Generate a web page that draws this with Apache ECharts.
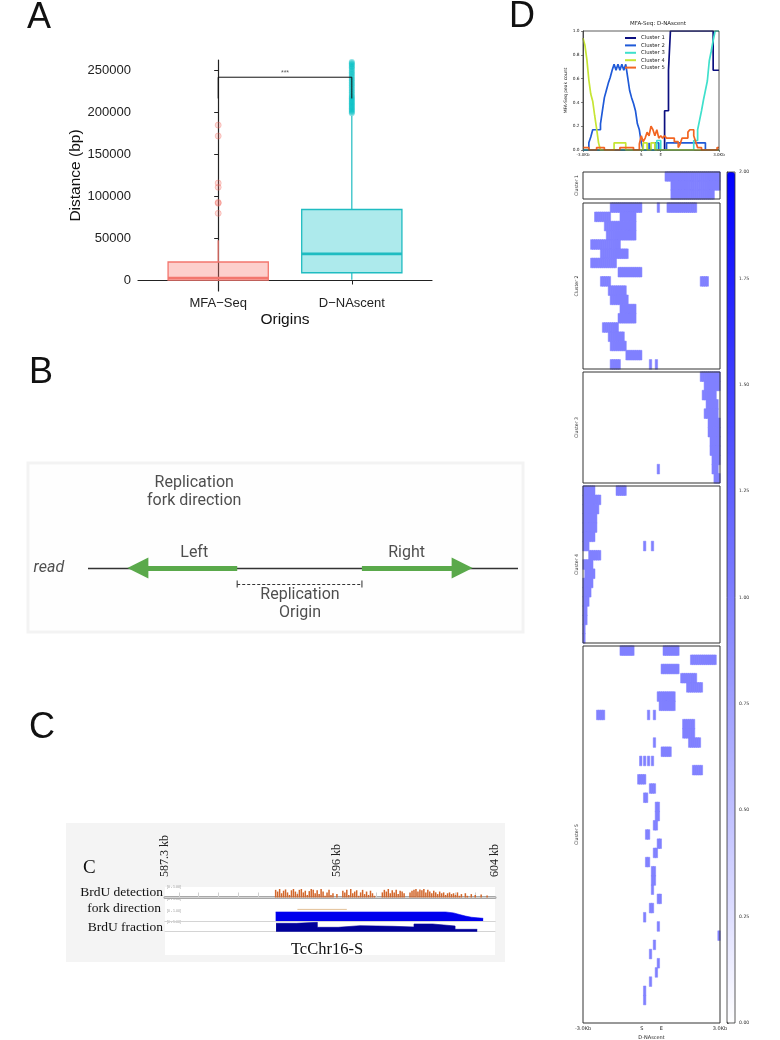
<!DOCTYPE html>
<html>
<head>
<meta charset="utf-8">
<title>Replication origins</title>
<script src="https://cdn.jsdelivr.net/npm/echarts@6/dist/echarts.min.js"></script>
<style>
  html, body { margin: 0; padding: 0; background: #fff; }
  body { width: 780px; height: 1040px; position: relative; overflow: hidden; }
  .panel { position: absolute; }
  #panelA { left: 0; top: 0; width: 460px; height: 340px; }
  #panelB { left: 0; top: 340px; width: 530px; height: 310px; }
  #panelC { left: 0; top: 690px; width: 530px; height: 290px; }
  #panelD { left: 500px; top: 0; width: 280px; height: 1040px; }
</style>
</head>
<body>
<div class="panel" id="panelA"></div>
<div class="panel" id="panelB"></div>
<div class="panel" id="panelC"></div>
<div class="panel" id="panelD"></div>
<script>
// ---------- A: distance boxplot ----------
const originCats = ['MFA−Seq', 'D−NAscent'];
// [lower whisker, Q1, median, Q3, upper whisker]
const mfaBox = [0, 500, 3000, 22000, 48000];
const dnaBox = [1000, 9200, 31700, 84500, 196000];
const mfaOutliers = [185000, 172000, 116000, 111000, 93000, 92000, 80000];
const dnaOutliers = [199000, 200500, 202000, 203500, 205000, 206500, 208000, 209500, 211000, 212500,
  214000, 215500, 217000, 218500, 220000, 222000, 224000, 226000, 228000, 230000,
  232000, 234000, 236000, 238000, 240000, 242000, 244000, 246000, 248000, 250000,
  252000, 254000, 255500, 257000, 258500, 260000];
const distanceTicks = [0, 50000, 100000, 150000, 200000, 250000];
const sigBracket = [216700, 242000]; // foot, top

// ---------- B: fork direction scheme (read positions 0..100) ----------
const readLine = [[0, 0], [100, 0]];
const leftFork = [[34.7, 0], [11.6, 0]];
const rightFork = [[63.7, 0], [87.0, 0]];
const originSpan = [[34.7, -0.64], [63.7, -0.64]];
const schemeLabels = [
  ['Replication', 24.7, 3.4], ['fork direction', 24.7, 2.68],
  ['Left', 24.7, 0.6], ['Right', 74.1, 0.6],
  ['Replication', 49.3, -1.08], ['Origin', 49.3, -1.8],
  ['read', -9.1, 0]
];

// ---------- C: genome browser tracks (kb) ----------
const rulerRangeKb = [587.3, 604];
const rulerLabelKb = [587.3, 596, 604];
const rulerTickKb = [588, 589, 590, 591, 592, 593, 594, 595, 597, 598, 599, 600, 601, 602, 603];
const detectStartKb = 592.9;
const detectBinKb = 0.1;
const detectHeights = [
  0.9, 0.7, 1.0, 0.5, 0.8, 0.95, 0.6, 0.3, 0.85, 1.0,
  0.7, 0.4, 0.9, 1.0, 0.6, 0.8, 0.3, 0.75, 1.0, 0.9,
  0.5, 0.85, 0.4, 1.0, 0.7, 0.2, 0.6, 0.9, 0.3, 0.5,
  0, 0.4, 0, 0, 0.8, 0.6, 0.9, 0.3, 1.0, 0.5,
  0.7, 0.85, 0.2, 0.6, 0.9, 0.4, 0.7, 0.3, 0.8, 0.5,
  0.2, 0, 0, 0, 0.6, 0.9, 0.7, 1.0, 0.5, 0.85,
  0.6, 0.9, 0.4, 0.8, 0.7, 0.5, 0, 0, 0.6, 0.8,
  0.9, 1.0, 0.7, 0.95, 0.85, 1.0, 0.6, 0.9, 0.7, 0.5,
  0.8, 0.6, 0.4, 0.7, 0.5, 0.6, 0.3, 0.5, 0.6, 0.4,
  0.5, 0.3, 0.6, 0.2, 0.4, 0, 0.5, 0.2, 0, 0.4,
  0, 0.3, 0, 0, 0.35, 0, 0, 0.25
];
const forkDirection = [[592.9, 1], [601.5, 1], [601.9, 0.9], [602.2, 0.72], [602.5, 0.55],
  [602.8, 0.42], [603.1, 0.35], [603.4, 0.3]];
const forkFeature = [[594.0, 1.3], [596.5, 1.3]];
const brduFraction = [[592.92, 0.84], [593.96, 0.94], [595.01, 0.44], [596.07, 0.6], [597.17, 0.54],
  [598.85, 0.47], [599.9, 0.77], [600.85, 0.57], [601.98, 0.24], [603.1, 0.24]];

// ---------- D: profile + heatmap (70 bins: 3kb up, body, 3kb down) ----------
const binCount = 70;
const profileTickBins = [0, 30, 40, 70];
const profileTickNames = ['-3.0Kb', 'S', 'E', '3.0Kb'];
const clusterNames = ['Cluster 1', 'Cluster 2', 'Cluster 3', 'Cluster 4', 'Cluster 5'];
const clusterColors = ['#0b0f80', '#1f5ad8', '#3fe0cc', '#c6e534', '#f26522'];
// [bin start, mean peak count]
const profile1 = [[0, 0], [42, 0.33], [44, 0.67], [45, 1], [67, 0.67], [70, 0.67]];
const profile2 = [[0, 0], [3, 0.06], [4, 0.11], [5, 0.17], [9, 0.22], [10, 0.33], [11, 0.44], [12, 0.5],
  [13, 0.56], [14, 0.61], [15, 0.67], [16, 0.72], [17, 0.67], [18, 0.72], [19, 0.67], [20, 0.72],
  [21, 0.67], [22, 0.72], [23, 0.61], [24, 0.5], [25, 0.44], [26, 0.39], [27, 0.33], [28, 0.22],
  [29, 0.17], [30, 0.06], [31, 0], [34, 0.06], [35, 0], [37, 0.06], [39, 0], [43, 0.06], [63, 0], [70, 0]];
const profile3 = [[0, 0], [38, 0.08], [40, 0], [57, 0.08], [59, 0.17], [60, 0.25], [61, 0.33], [62, 0.42],
  [63, 0.5], [64, 0.58], [65, 0.75], [66, 0.83], [67, 0.92], [68, 1], [70, 1]];
const profile4 = [[0, 0.94], [1, 0.88], [2, 0.76], [3, 0.59], [4, 0.47], [5, 0.41], [6, 0.29], [7, 0.18],
  [8, 0.06], [9, 0], [16, 0.06], [22, 0], [31, 0.06], [33, 0], [35, 0.06], [37, 0], [70, 0]];
const profile5 = [[0, 0.02], [3, 0], [7, 0.02], [11, 0], [19, 0.02], [26, 0], [29, 0.05], [30, 0.12],
  [31, 0.07], [32, 0.1], [33, 0.15], [34, 0.12], [35, 0.2], [36, 0.17], [37, 0.12], [38, 0.17],
  [39, 0.1], [40, 0.12], [41, 0.1], [42, 0.12], [43, 0.1], [47, 0.07], [49, 0.02], [50, 0.05],
  [51, 0.1], [54, 0.15], [55, 0.17], [57, 0.12], [58, 0.07], [59, 0.02], [61, 0], [69, 0.02], [70, 0.02]];
// heatmap rows: list of [start bin, end bin) where a peak overlaps
const peakValue = 1;
const rows1 = [[[42, 70]], [[45, 70]], [[45, 67]]];
const rows2 = [
  [[14, 30], [38, 39], [43, 58]], [[6, 14], [19, 27]], [[11, 27]], [[12, 27]], [[4, 19]], [[9, 23]],
  [[4, 17]], [[18, 30]], [[9, 14], [60, 64]], [[13, 22]], [[14, 23]], [[19, 27]],
  [[18, 27]], [[10, 18]], [[13, 21]], [[14, 22]], [[22, 30]], [[14, 19], [34, 35], [37, 38]]
];
const rows3 = [
  [[60, 70]], [[62, 70]], [[61, 68]], [[63, 69]], [[62, 69]], [[64, 70]],
  [[64, 70]], [[65, 70]], [[65, 70]], [[66, 70]], [[38, 39], [66, 69]], [[67, 70]]
];
const rows4 = [
  [[0, 6], [17, 22]], [[0, 9]], [[0, 8]], [[0, 7]], [[0, 7]], [[0, 6]],
  [[0, 3], [31, 32], [35, 36]], [[3, 9]], [[0, 5]], [[1, 6]], [[0, 5]], [[0, 4]],
  [[0, 3]], [[0, 2]], [[0, 2]], [[0, 1]], [[0, 1]]
];
const rows5 = [
  [[19, 26], [41, 49]], [[55, 68]], [[40, 49]], [[50, 58]], [[53, 61]], [[38, 47]],
  [[39, 47]], [[7, 11], [33, 34], [36, 37]], [[51, 57]], [[51, 57]], [[36, 37], [54, 60]], [[40, 45]],
  [[29, 30], [31, 32], [33, 34], [35, 36]], [[56, 61]], [[28, 32]], [[34, 37]], [[31, 33]], [[37, 39]],
  [[37, 39]], [[36, 38]], [[32, 34]], [[38, 40]], [[36, 38]], [[32, 34]],
  [[35, 37]], [[35, 37]], [[35, 36]], [[38, 40]], [[34, 36]], [[31, 32]],
  [[38, 39]], [[69, 70]], [[36, 37]], [[34, 35]], [[38, 39]], [[37, 38]],
  [[34, 35]], [[31, 32]], [[31, 32]], [], []
];
const colorbarTicks = [0, 2];

// 面板A 箱线图
(function () {
  const myChart = echarts.init(document.querySelector('#panelA'));
  const boxColors = ['#f3766e', '#1fbcc1'];
  const boxFills = ['rgba(248,118,109,0.35)', 'rgba(0,191,196,0.32)'];
  const boxData = [mfaBox, dnaBox].map(function (s, i) { return [i].concat(s); });
  const font = 'Liberation Sans';
  const option = {
    animation: false,
    textStyle: { fontFamily: font },
    graphic: [
      { type: 'text', x: 27, y: 18, style: { text: 'A', fontSize: 36, fill: '#111', fontFamily: font, verticalAlign: 'middle' } }
    ],
    grid: { left: 138, top: 60, width: 294, height: 231, containLabel: false, outerBoundsMode: 'none' },
    xAxis: {
      type: 'value', min: -0.6, max: 1.6,
      name: 'Origins', nameLocation: 'middle', nameGap: 21, nameMoveOverlap: false,
      nameTextStyle: { fontSize: 15.5, color: '#111', fontFamily: font },
      axisLine: { lineStyle: { color: '#222', width: 1.2 } },
      axisTick: { customValues: [0, 1], length: 4, lineStyle: { color: '#222' } },
      axisLabel: {
        customValues: [0, 1], margin: 6, fontSize: 13, color: '#222',
        formatter: function (v) { return originCats[Math.round(v)]; }
      },
      splitLine: { show: false }
    },
    yAxis: {
      type: 'value', min: -12500, max: 262500,
      name: 'Distance (bp)', nameLocation: 'middle', nameGap: 54, nameMoveOverlap: false,
      nameTextStyle: { fontSize: 15.5, color: '#111', fontFamily: font },
      axisLine: { show: true, lineStyle: { color: '#222', width: 1.2 } },
      axisTick: { show: true, customValues: distanceTicks, length: 4, lineStyle: { color: '#222' } },
      axisLabel: {
        customValues: distanceTicks, margin: 7, fontSize: 13, color: '#222',
        formatter: function (v) { return String(v); }
      },
      splitLine: { show: false }
    },
    series: [
      {
        type: 'custom',
        data: boxData,
        encode: { x: 0, y: [1, 2, 3, 4, 5] },
        renderItem: function (params, api) {
          const i = api.value(0);
          const low = api.coord([i, api.value(1)]);
          const q1 = api.coord([i, api.value(2)]);
          const med = api.coord([i, api.value(3)]);
          const q3 = api.coord([i, api.value(4)]);
          const high = api.coord([i, api.value(5)]);
          const half = api.size([0.75, 0])[0] / 2;
          const stroke = boxColors[i];
          return {
            type: 'group',
            children: [
              { type: 'line', shape: { x1: low[0], y1: low[1], x2: q1[0], y2: q1[1] }, style: { stroke: stroke, lineWidth: 1.2 } },
              { type: 'line', shape: { x1: q3[0], y1: q3[1], x2: high[0], y2: high[1] }, style: { stroke: stroke, lineWidth: 1.2 } },
              { type: 'rect', shape: { x: q1[0] - half, y: q3[1], width: half * 2, height: q1[1] - q3[1] }, style: { fill: boxFills[i], stroke: stroke, lineWidth: 1.3 } },
              { type: 'line', shape: { x1: med[0] - half, y1: med[1], x2: med[0] + half, y2: med[1] }, style: { stroke: stroke, lineWidth: 2.6 } }
            ]
          };
        }
      },
      {
        type: 'scatter', symbolSize: 6,
        data: mfaOutliers.map(function (v) { return [0, v]; }),
        itemStyle: { color: 'rgba(248,118,109,0.3)', borderColor: 'rgba(240,110,100,0.45)', borderWidth: 1 }
      },
      {
        type: 'scatter', symbolSize: 6,
        data: dnaOutliers.map(function (v) { return [1, v]; }),
        itemStyle: { color: 'rgba(0,191,196,0.55)' }
      },
      {
        type: 'line', symbol: 'none',
        data: [[0, sigBracket[0]], [0, sigBracket[1]], [1, sigBracket[1]], [1, sigBracket[0]]],
        lineStyle: { color: '#111', width: 1 }
      },
      {
        type: 'scatter', symbolSize: 0,
        data: [[0.5, sigBracket[1]]],
        label: { show: true, position: 'top', distance: 1, formatter: '***', fontSize: 7, color: '#333' }
      }
    ]
  };
  myChart.setOption(option);
  window.addEventListener('resize', function () { myChart.resize(); });
})();

// 面板B 复制叉方向示意图
(function () {
  const myChart = echarts.init(document.querySelector('#panelB'));
  const font = 'Roboto';
  const option = {
    animation: false,
    graphic: [
      { type: 'text', x: 29, y: 33, style: { text: 'B', fontSize: 36, fill: '#111', fontFamily: 'Liberation Sans', verticalAlign: 'middle' } },
      { type: 'rect', z: -1, shape: { x: 28, y: 123, width: 495, height: 169 }, style: { fill: '#fefefe', stroke: '#f3f3f3', lineWidth: 3 } }
    ],
    grid: { left: 36.4, width: 481.6, top: 128, height: 150, containLabel: false, outerBoundsMode: 'none' },
    xAxis: { type: 'value', min: -12, max: 100, show: false },
    yAxis: { type: 'value', min: -2, max: 4, show: false },
    series: [
      {
        type: 'lines', coordinateSystem: 'cartesian2d', symbol: 'none',
        lineStyle: { color: '#333', width: 1.3, opacity: 1, curveness: 0 },
        data: [{ coords: readLine }]
      },
      {
        type: 'lines', coordinateSystem: 'cartesian2d', symbol: ['none', 'triangle'], symbolSize: 21,
        lineStyle: { color: '#5aa94b', width: 5, opacity: 1, curveness: 0 },
        itemStyle: { color: '#5aa94b' },
        data: [{ coords: leftFork }, { coords: rightFork }]
      },
      {
        type: 'lines', coordinateSystem: 'cartesian2d', symbol: 'none',
        lineStyle: { color: '#333', width: 1.1, opacity: 1, type: [3, 2], curveness: 0 },
        data: [{ coords: originSpan }]
      },
      {
        type: 'scatter', symbol: 'rect', symbolSize: [1.3, 7],
        itemStyle: { color: '#333' },
        data: originSpan
      },
      {
        type: 'scatter', symbolSize: 0,
        data: schemeLabels.map(function (d) {
          return { name: d[0], value: [d[1], d[2]], label: { fontStyle: d[0] === 'read' ? 'italic' : 'normal' } };
        }),
        label: { show: true, position: 'inside', formatter: '{b}', fontSize: 16, color: '#222', fontFamily: font }
      }
    ]
  };
  myChart.setOption(option);
  window.addEventListener('resize', function () { myChart.resize(); });
})();

// 面板C 基因组浏览器轨道
(function () {
  const myChart = echarts.init(document.querySelector('#panelC'));
  const serif = 'Liberation Serif';
  const trackLine = { lineStyle: { color: '#d4d4d4', width: 1 } };
  const hiddenX = function (grid, pos) {
    return {
      type: 'value', gridIndex: grid, position: pos, min: rulerRangeKb[0], max: rulerRangeKb[1],
      axisLine: trackLine, axisTick: { show: false }, axisLabel: { show: false }, splitLine: { show: false }
    };
  };
  const hiddenY = function (grid, max) {
    return { type: 'value', gridIndex: grid, min: 0, max: max, show: false };
  };
  const scaleText = function (y) {
    return { type: 'text', x: 167, y: y, style: { text: '[0 - 1.00]', fontSize: 3.5, fill: '#999', verticalAlign: 'middle' } };
  };
  const option = {
    animation: false,
    graphic: [
      { type: 'text', x: 29, y: 38, style: { text: 'C', fontSize: 36, fill: '#111', fontFamily: 'Liberation Sans', verticalAlign: 'middle' } },
      { type: 'rect', z: -2, shape: { x: 66, y: 133, width: 439, height: 139 }, style: { fill: '#f4f4f4' } },
      { type: 'rect', z: -1, shape: { x: 165, y: 197, width: 330, height: 68 }, style: { fill: '#ffffff' } },
      { type: 'text', x: 83, y: 178, style: { text: 'C', fontSize: 19, fill: '#111', fontFamily: serif, verticalAlign: 'middle' } },
      { type: 'text', x: 163, y: 202, style: { text: 'BrdU detection', fontSize: 13.5, fill: '#111', fontFamily: serif, align: 'right', verticalAlign: 'middle' } },
      { type: 'text', x: 161, y: 218, style: { text: 'fork direction', fontSize: 13.5, fill: '#111', fontFamily: serif, align: 'right', verticalAlign: 'middle' } },
      { type: 'text', x: 163, y: 237, style: { text: 'BrdU fraction', fontSize: 13.5, fill: '#111', fontFamily: serif, align: 'right', verticalAlign: 'middle' } },
      { type: 'text', x: 327, y: 260, style: { text: 'TcChr16-S', fontSize: 16.5, fill: '#111', fontFamily: serif, align: 'center', verticalAlign: 'middle' } },
      scaleText(197), scaleText(209), scaleText(221), scaleText(232)
    ],
    grid: [
      { left: 165, width: 330, top: 199, height: 8.5, containLabel: false, outerBoundsMode: 'none' },
      { left: 165, width: 330, top: 219, height: 12, containLabel: false, outerBoundsMode: 'none' },
      { left: 165, width: 330, top: 231.7, height: 10, containLabel: false, outerBoundsMode: 'none' }
    ],
    xAxis: [
      {
        type: 'value', gridIndex: 0, position: 'top', offset: 4,
        min: rulerRangeKb[0], max: rulerRangeKb[1],
        axisLine: { lineStyle: { color: '#a8a8a8', width: 3 } },
        axisTick: { show: true, customValues: rulerTickKb, length: 5, lineStyle: { color: '#cfcfcf' } },
        axisLabel: {
          customValues: rulerLabelKb, rotate: 90, margin: 8, fontSize: 12, color: '#222', fontFamily: serif,
          showMinLabel: true, showMaxLabel: true,
          formatter: function (v) { return v + ' kb'; }
        },
        splitLine: { show: false }
      },
      hiddenX(0, 'bottom'),
      hiddenX(1, 'top'),
      hiddenX(1, 'bottom'),
      hiddenX(2, 'bottom')
    ],
    yAxis: [hiddenY(0, 1), hiddenY(1, 1.333), hiddenY(2, 1)],
    series: [
      {
        type: 'bar', xAxisIndex: 1, yAxisIndex: 0, barWidth: 1.5,
        data: detectHeights.map(function (h, i) { return [detectStartKb + i * detectBinKb, h]; }),
        itemStyle: { color: '#d2662a' }
      },
      {
        type: 'line', xAxisIndex: 3, yAxisIndex: 1, symbol: 'none',
        data: forkFeature, lineStyle: { color: '#e6c7a2', width: 1.2 }
      },
      {
        type: 'line', xAxisIndex: 3, yAxisIndex: 1, symbol: 'none',
        data: forkDirection,
        lineStyle: { color: '#0000ee', width: 0.6 },
        areaStyle: { color: '#0000ee', opacity: 1 }
      },
      {
        type: 'line', xAxisIndex: 4, yAxisIndex: 2, symbol: 'none', step: 'end',
        data: brduFraction,
        lineStyle: { color: '#00009a', width: 0.6 },
        areaStyle: { color: '#00009a', opacity: 1 }
      }
    ]
  };
  myChart.setOption(option);
  window.addEventListener('resize', function () { myChart.resize(); });
})();

// 面板D 剖面图 + 热图
(function () {
  const myChart = echarts.init(document.querySelector('#panelD'));
  const font = 'DejaVu Sans';
  const frame = '#333';
  const profiles = [profile1, profile2, profile3, profile4, profile5];
  const clusterRows = [rows1, rows2, rows3, rows4, rows5];
  const clusterGrids = [[172, 27], [203, 166], [372, 111], [486, 157], [646, 377]];
  const bins = Array.from({ length: binCount }, function (_, i) { return i; });

  function toCells(rows) {
    const cells = [];
    rows.forEach(function (spans, r) {
      spans.forEach(function (span) {
        for (let b = span[0]; b < span[1]; b++) cells.push([b, r, peakValue]);
      });
    });
    return cells;
  }

  const grids = [{ left: 83, top: 31, width: 136, height: 119, show: true, borderColor: frame, borderWidth: 0.8, backgroundColor: 'transparent', z: 10 }];
  clusterGrids.forEach(function (g) {
    grids.push({ left: 83, top: g[0], width: 137, height: g[1], show: true, borderColor: frame, borderWidth: 1, backgroundColor: 'transparent', z: 10 });
  });
  grids.push({ left: 227, top: 172, width: 8, height: 851, show: true, borderColor: frame, borderWidth: 0.8, backgroundColor: 'transparent', z: 10 });
  grids.forEach(function (g) { g.containLabel = false; g.outerBoundsMode = 'none'; });

  const xAxes = [{
    type: 'value', gridIndex: 0, min: 0, max: binCount,
    axisLine: { lineStyle: { color: frame, width: 0.8 } },
    axisTick: { customValues: profileTickBins, length: 2, lineStyle: { color: frame, width: 0.6 } },
    axisLabel: {
      customValues: profileTickBins, margin: 3, fontSize: 4, color: '#222', fontFamily: font,
      formatter: function (v) { return profileTickNames[profileTickBins.indexOf(v)]; }
    },
    splitLine: { show: false }
  }];
  const yAxes = [{
    type: 'value', gridIndex: 0, min: 0, max: 1, interval: 0.2,
    name: 'MFA-Seq peak count', nameLocation: 'middle', nameGap: 15, nameMoveOverlap: false,
    nameTextStyle: { fontSize: 4.5, color: '#222', fontFamily: font },
    axisLine: { show: true, lineStyle: { color: frame, width: 0.8 } },
    axisTick: { show: true, length: 2, lineStyle: { color: frame, width: 0.6 } },
    axisLabel: { margin: 3.5, fontSize: 4.3, color: '#222', fontFamily: font, formatter: function (v) { return v.toFixed(1); } },
    splitLine: { show: false }
  }];
  clusterRows.forEach(function (rows, k) {
    xAxes.push({ type: 'category', gridIndex: k + 1, data: bins, position: 'top', show: false });
    yAxes.push({
      type: 'category', gridIndex: k + 1, inverse: true,
      data: rows.map(function (_, r) { return r; }),
      name: clusterNames[k], nameLocation: 'middle', nameGap: 3.5, nameMoveOverlap: false,
      nameTextStyle: { fontSize: 4.7, color: '#333', fontFamily: font },
      axisLine: { show: false }, axisTick: { show: false }, axisLabel: { show: false }, splitLine: { show: false }
    });
  });
  xAxes.push({
    type: 'value', gridIndex: 5, position: 'bottom', min: 0, max: binCount,
    name: 'D-NAscent', nameLocation: 'middle', nameGap: 12, nameMoveOverlap: false,
    nameTextStyle: { fontSize: 5, color: '#222', fontFamily: font },
    axisLine: { lineStyle: { color: frame, width: 1 } },
    axisTick: { customValues: profileTickBins, length: 2, lineStyle: { color: frame, width: 0.6 } },
    axisLabel: {
      customValues: profileTickBins, margin: 3.5, fontSize: 5, color: '#222', fontFamily: font,
      formatter: function (v) { return profileTickNames[profileTickBins.indexOf(v)]; }
    },
    splitLine: { show: false }
  });
  xAxes.push({ type: 'value', gridIndex: 6, min: 0, max: 1, show: false });
  yAxes.push({
    type: 'value', gridIndex: 6, position: 'right', min: colorbarTicks[0], max: colorbarTicks[1], interval: 0.25,
    axisLine: { show: true, lineStyle: { color: frame, width: 0.8 } },
    axisTick: { show: true, length: 2, lineStyle: { color: frame, width: 0.6 } },
    axisLabel: { margin: 4, fontSize: 4.6, color: '#333', fontFamily: font, formatter: function (v) { return v.toFixed(2); } },
    splitLine: { show: false }
  });

  const series = profiles.map(function (p, k) {
    return {
      name: clusterNames[k], type: 'line', xAxisIndex: 0, yAxisIndex: 0,
      step: 'end', symbol: 'none', data: p,
      lineStyle: { color: clusterColors[k], width: 1.7 }, itemStyle: { color: clusterColors[k] }
    };
  });
  clusterRows.forEach(function (rows, k) {
    series.push({
      type: 'heatmap', xAxisIndex: k + 1, yAxisIndex: k + 1, z: 4,
      data: toCells(rows), progressive: 0, emphasis: { disabled: true },
      // every cell holds the same value, so a matching border closes the anti-alias seams
      itemStyle: { borderColor: '#8080ff', borderWidth: 0.5 }
    });
  });

  const option = {
    animation: false,
    textStyle: { fontFamily: font },
    graphic: [
      { type: 'text', x: 9, y: 17, style: { text: 'D', fontSize: 36, fill: '#111', fontFamily: 'Liberation Sans', verticalAlign: 'middle' } },
      { type: 'text', x: 158, y: 24, style: { text: 'MFA-Seq: D-NAscent', fontSize: 5.5, fill: '#222', fontFamily: font, align: 'center', verticalAlign: 'middle' } }
    ],
    legend: {
      data: clusterNames, orient: 'vertical', left: 125, top: 34.5, padding: 0,
      icon: 'rect', itemWidth: 11, itemHeight: 2, itemGap: 0.4,
      textStyle: { fontSize: 5.3, color: '#222', fontFamily: font, lineHeight: 7 }
    },
    visualMap: {
      type: 'continuous', min: colorbarTicks[0], max: colorbarTicks[1], seriesIndex: [5, 6, 7, 8, 9],
      left: 227, top: 172, itemWidth: 8, itemHeight: 851, padding: 0,
      calculable: false, realtime: false, text: null, showLabel: false,
      inRange: { color: ['#ffffff', '#0000ff'] }
    },
    grid: grids,
    xAxis: xAxes,
    yAxis: yAxes,
    series: series
  };
  myChart.setOption(option);
  window.addEventListener('resize', function () { myChart.resize(); });
})();
</script>
</body>
</html>
